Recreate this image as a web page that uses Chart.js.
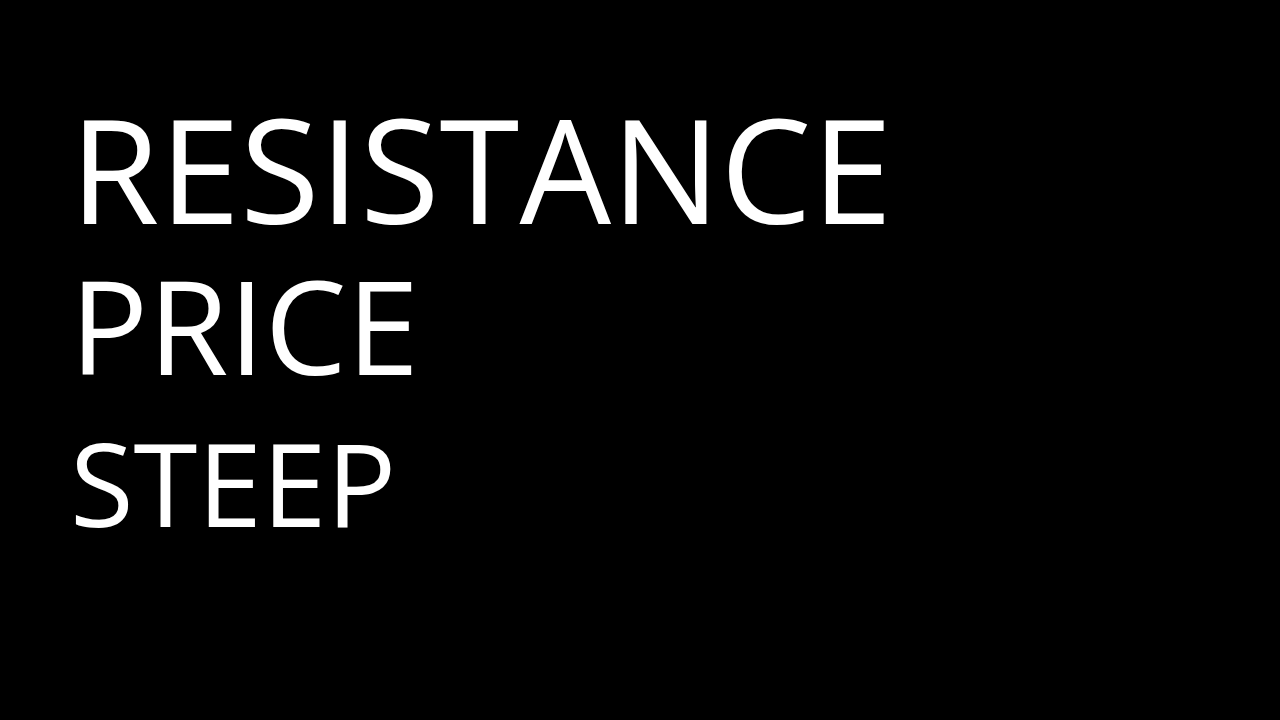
<!DOCTYPE html>
<html>
<head>
<meta charset="utf-8">
<script src="https://cdn.jsdelivr.net/npm/chart.js@4"></script>
<style>
  html, body { margin: 0; padding: 0; background: #000; }
  #wrap { width: 1280px; height: 720px; position: relative; }
</style>
</head>
<body>
<div id="wrap"><canvas id="slideChart"></canvas></div>
<script>
// the three words on the slide, top to bottom
const words = ['RESISTANCE', 'PRICE', 'STEEP'];

// draws the black background and the words (each line has its own size)
const wordsPlugin = {
  id: 'words',
  beforeDraw(chart, args, opts) {
    const ctx = chart.ctx;
    ctx.save();
    ctx.fillStyle = opts.background;
    ctx.fillRect(0, 0, chart.width, chart.height);
    ctx.fillStyle = opts.color;
    ctx.textAlign = 'left';
    ctx.textBaseline = 'alphabetic';
    words.forEach((w, i) => {
      ctx.font = opts.sizes[i] + 'px "Open Sans"';
      ctx.fillText(w, opts.left, opts.baselines[i]);
    });
    ctx.restore();
  }
};

function makeChart() {
  new Chart(document.getElementById('slideChart').getContext('2d'), {
    type: 'line',
    data: {
      labels: [],
      datasets: [{ data: [] }]
    },
    options: {
      responsive: true,
      maintainAspectRatio: false,
      animation: false,
      events: [],
      scales: {
        x: { display: false },
        y: { display: false }
      },
      plugins: {
        legend: { display: false },
        tooltip: { enabled: false },
        words: {
          background: '#000000',
          color: '#ffffff',
          left: 70,
          sizes: [145, 130, 116],
          baselines: [224, 375, 527]
        }
      }
    },
    plugins: [wordsPlugin]
  });
}

document.fonts.load('145px "Open Sans"').then(makeChart, makeChart);
</script>
</body>
</html>
